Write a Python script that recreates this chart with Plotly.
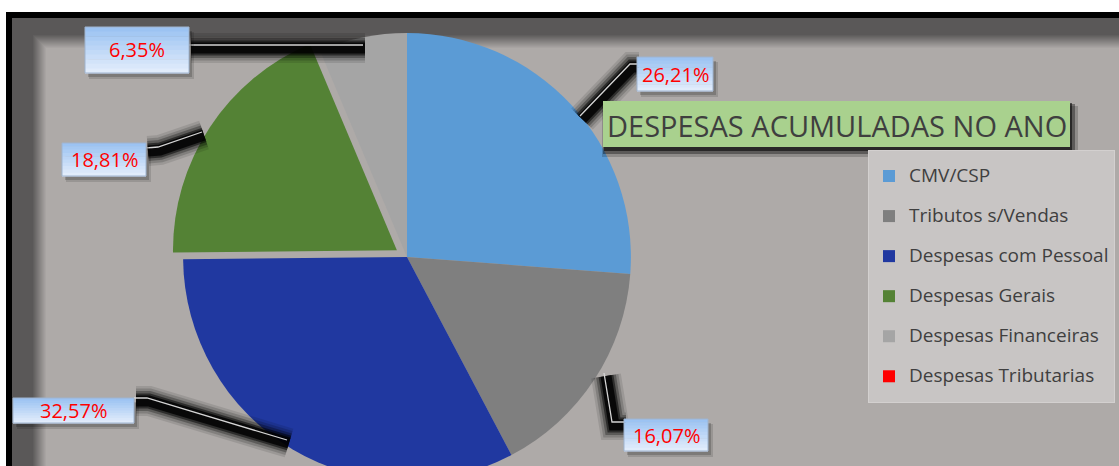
import plotly.graph_objects as go

# ---------------- data ----------------
categories = ["CMV/CSP", "Tributos s/Vendas", "Despesas com Pessoal",
              "Despesas Gerais", "Despesas Financeiras", "Despesas Tributarias"]
values = [26.21, 16.07, 32.57, 18.81, 6.35, 0.0]
colors = ["#5b9bd5", "#7f7f7f", "#2038a0", "#548235", "#a5a5a5", "#ff0000"]
pulls = [0, 0, 0, 0.054, 0, 0]
chart_title = "DESPESAS ACUMULADAS NO ANO"

# ---------------- layout helpers (pixels -> paper) ----------------
W, H = 1119, 500


def px(x):
    return x / W


def py(y):
    return 1 - y / H


# label boxes (x0, y0, x1, y1) and leader-line points, keyed by slice index
label_boxes = {4: (85, 27, 189, 73), 3: (62, 143, 146, 176), 0: (637, 57, 713, 91),
               2: (13, 398, 134, 423), 1: (624, 419, 708, 451)}
leaders = {4: [(189, 45), (363, 45)],
           3: [(146, 148), (158, 147), (202, 132)],
           0: [(637, 64), (630, 64), (580, 116)],
           2: [(134, 398), (147, 398), (287, 440)],
           1: [(604, 373), (612, 422), (624, 422)]}


def fmt(v):
    return f"{v:.2f}".replace(".", ",") + "%"


legend_labels = [f"<span style='font-size:19px;baseline-shift:5px'>{c}</span>" for c in categories]

fig = go.Figure()
fig.add_trace(go.Pie(
    labels=legend_labels,
    values=values,
    marker=dict(colors=colors, line=dict(width=0)),
    pull=pulls,
    sort=False,
    direction="clockwise",
    rotation=0,
    textinfo="none",
    hoverinfo="label+percent",
    domain=dict(x=[px(171), px(643)], y=[py(493), py(21)]),
    showlegend=True,
))

shapes = []


def rect(x0, y0, x1, y1, fill, layer="below", line=None, opacity=1.0):
    shapes.append(dict(type="rect", xref="paper", yref="paper",
                       x0=px(x0), x1=px(x1), y0=py(y1), y1=py(y0),
                       fillcolor=fill, opacity=opacity, layer=layer,
                       line=line if line else dict(width=0)))


# frame: black border, dark band, smooth transition into inner grey
rect(6, 12, W + 20, H + 20, "#000000")
rect(12, 18, W + 20, H + 20, "#5a5858")
dark = (90, 88, 88)
light = (174, 170, 168)
steps = 14
for k in range(steps):
    t = (k + 1) / steps
    c = tuple(round(dark[j] + (light[j] - dark[j]) * t) for j in range(3))
    rect(33 + k, 35 + k, W + 20, H + 20, f"rgb{c}")


def path_str(pts, dx=0, dy=0):
    return "M " + " L ".join(f"{px(x + dx)},{py(y + dy)}" for x, y in pts)


# leader lines with blurred shadow
for i, pts in leaders.items():
    for w, op in [(30, 0.10), (25, 0.16), (20, 0.28), (15, 0.5), (11, 0.8)]:
        shapes.append(dict(type="path", xref="paper", yref="paper", layer="above",
                           path=path_str(pts, 2, 3), line=dict(color="black", width=w),
                           opacity=op))
    shapes.append(dict(type="path", xref="paper", yref="paper", layer="above",
                       path=path_str(pts), line=dict(color="#d4d4d4", width=1.3)))

# label boxes with gradient
top_c = (156, 195, 242)
bot_c = (225, 236, 251)
for i, (x0, y0, x1, y1) in label_boxes.items():
    rect(x0 + 4, y0 + 5, x1 + 5, y1 + 6, "rgba(0,0,0,0.12)", layer="above")
    rect(x0 + 3, y0 + 4, x1 + 3, y1 + 4, "rgba(0,0,0,0.18)", layer="above")
    n = 10
    for k in range(n):
        t = k / (n - 1)
        c = tuple(round(top_c[j] + (bot_c[j] - top_c[j]) * t) for j in range(3))
        ya = y0 + (y1 - y0) * k / n
        yb = y0 + (y1 - y0) * (k + 1) / n
        rect(x0, ya, x1, yb + 0.5, f"rgb{c}", layer="above")
    rect(x0, y0, x1, y1, "rgba(0,0,0,0)", layer="above", line=dict(color="#9fb4cf", width=1))

# title box with shadow
rect(602, 106, 1078, 157, "rgba(0,0,0,0.18)", layer="above")
rect(603, 104, 1075, 154, "rgba(0,0,0,0.35)", layer="above")
rect(604, 103, 1072, 151, "rgba(0,0,0,0.55)", layer="above")
rect(603, 101, 1070, 147, "#a9d18e", layer="above")

annotations = []
for i, (x0, y0, x1, y1) in label_boxes.items():
    annotations.append(dict(x=px((x0 + x1) / 2), y=py((y0 + y1) / 2), xref="paper", yref="paper",
                            text=fmt(values[i]), showarrow=False, xanchor="center", yanchor="middle",
                            font=dict(family="Open Sans", size=20, color="#ff0000")))
annotations.append(dict(x=px(836.5), y=py(125), xref="paper", yref="paper", text=chart_title,
                        showarrow=False, xanchor="center", yanchor="middle",
                        font=dict(family="Open Sans", size=29, color="#3f3f3f")))

fig.update_layout(
    width=W, height=H,
    margin=dict(l=0, r=0, t=0, b=0),
    paper_bgcolor="white",
    plot_bgcolor="white",
    shapes=shapes,
    annotations=annotations,
    legend=dict(
        x=px(868), xanchor="left", y=py(150), yanchor="top",
        bgcolor="#c8c5c4", bordercolor="#d3d0cf", borderwidth=1,
        font=dict(family="Open Sans", size=28.5, color="#3f3f3f"),
        traceorder="normal",
    ),
)

fig.write_html(
    "out.html",
    config={"displayModeBar": False},
    post_script="document.body.style.margin='0';document.documentElement.style.overflow='hidden';document.body.style.overflow='hidden';",
)
